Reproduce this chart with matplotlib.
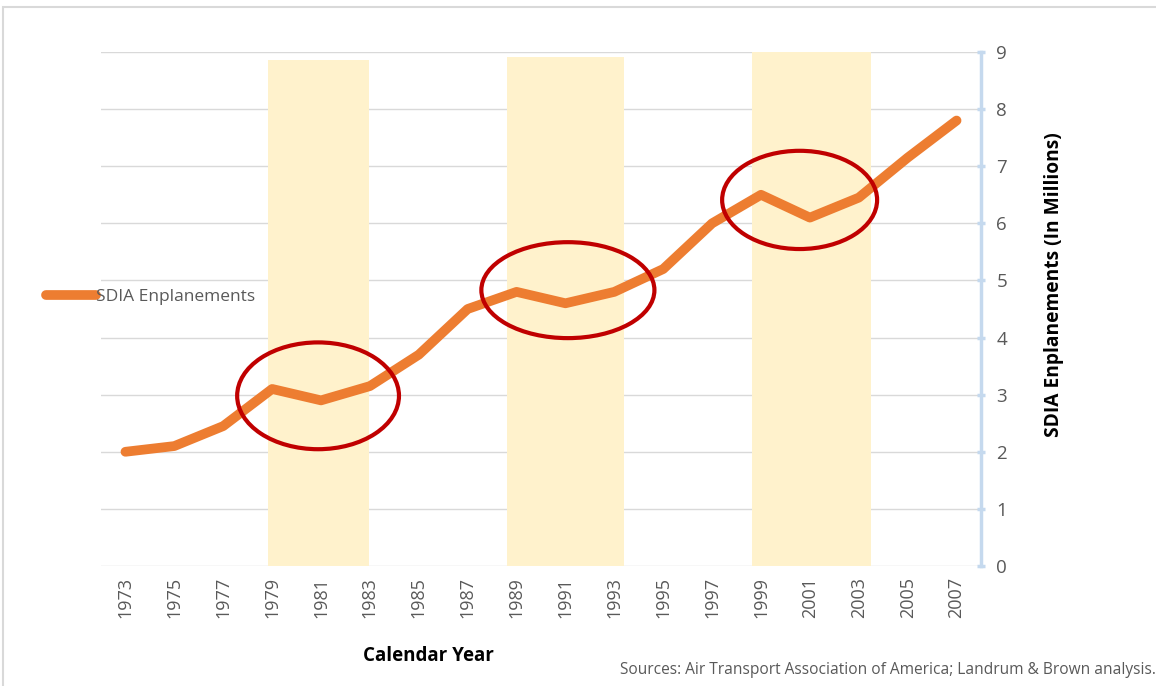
import matplotlib.pyplot as plt
from matplotlib.patches import Rectangle, Ellipse

plt.rcParams['font.family'] = ['Open Sans', 'DejaVu Sans']

# data
years = ['1973', '1975', '1977', '1979', '1981', '1983', '1985', '1987', '1989',
         '1991', '1993', '1995', '1997', '1999', '2001', '2003', '2005', '2007']
enplanements = [2.0, 2.1, 2.45, 3.1, 2.9, 3.15, 3.7, 4.5, 4.8,
                4.6, 4.8, 5.2, 6.0, 6.5, 6.1, 6.45, 7.15, 7.8]

# shaded recession periods (category positions) and their tops
band_start = [2.92, 7.80, 12.81]
band_end = [4.98, 10.20, 15.25]
band_top = [8.86, 8.91, 9.0]

# highlight circles: centre x, centre y, width, height
circle_x = [3.94, 9.05, 13.79]
circle_y = [2.98, 4.83, 6.41]
circle_w = [3.31, 3.54, 3.17]
circle_h = [1.87, 1.68, 1.72]

grey = '#595959'
orange = '#ED7D31'

fig = plt.figure(figsize=(11.56, 6.86), dpi=100)
ax = fig.add_axes([101/1156, 1-566/686, 880/1156, 514/686])

x = list(range(len(years)))

for s, e, t in zip(band_start, band_end, band_top):
    ax.add_patch(Rectangle((s, 0), e - s, t, facecolor='#FFF2CC', edgecolor='none', zorder=1))

ax.plot(x, enplanements, color=orange, lw=7, solid_capstyle='round',
        solid_joinstyle='round', label='SDIA Enplanements', zorder=3)

for cx, cy, w, h in zip(circle_x, circle_y, circle_w, circle_h):
    ax.add_patch(Ellipse((cx, cy), w, h, facecolor='none', edgecolor='#C00000', lw=3, zorder=4))

ax.set_xlim(-0.5, len(years) - 0.5)
ax.set_ylim(0, 9)
ax.set_xticks(x)
ax.set_xticklabels(years, rotation=90, color=grey, fontsize=13)
ax.tick_params(axis='x', length=0, pad=8)

ax.yaxis.tick_right()
ax.yaxis.set_label_position('right')
ax.set_yticks(range(10))
ax.tick_params(axis='y', direction='inout', length=6, width=2.5, color='#C5D9EE',
               labelcolor=grey, labelsize=13.5, pad=8)
ax.grid(axis='y', color='#D9D9D9', lw=1, zorder=0)
ax.set_axisbelow(True)

for side in ['top', 'left', 'bottom']:
    ax.spines[side].set_visible(False)
ax.spines['right'].set_color('#C5D9EE')
ax.spines['right'].set_linewidth(2.5)

ax.set_ylabel('SDIA Enplanements (In Millions)', fontsize=13.8, fontweight='bold',
              color='black')
ax.yaxis.set_label_coords(1.072, 0.547)
ax.set_xlabel('Calendar Year', fontsize=13.5, fontweight='bold', color='black')
ax.xaxis.set_label_coords(0.372, -0.155)

fig.legend(loc='center left', bbox_to_anchor=(0.026, 1-297/686), frameon=False,
           handlelength=2.9, handletextpad=0.0, fontsize=12.5, labelcolor=grey)

fig.text(1.0, 1-670/686, 'Sources: Air Transport Association of America; Landrum & Brown analysis.',
         ha='right', va='center', color=grey, fontsize=11.2)

# outer frame
fig.patches.append(Rectangle((3/1156, -0.1), 1.2, 1-7/686 + 0.1, transform=fig.transFigure,
                             facecolor='none', edgecolor='#D9D9D9', lw=1.5))

fig.savefig('out.png', dpi=100)
